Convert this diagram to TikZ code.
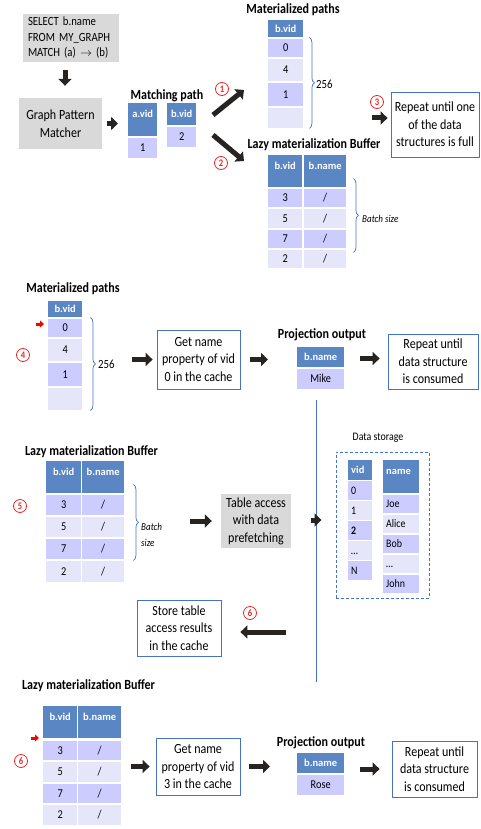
\documentclass[tikz,border=0pt]{standalone}
\usepackage{fontspec}
\setmainfont{Carlito}[FakeStretch=0.86]
\newfontfamily\hdrfont{Carlito}
\usetikzlibrary{arrows.meta, decorations.pathreplacing, calc}

\definecolor{hdrblue}{RGB}{91,134,196}
\definecolor{rowdark}{RGB}{204,204,255}
\definecolor{rowlight}{RGB}{230,230,250}
\definecolor{boxgray}{RGB}{217,217,217}
\definecolor{boxline}{RGB}{68,114,196}
\definecolor{numred}{RGB}{230,40,40}
\definecolor{arrowblk}{RGB}{38,35,33}

\tikzset{
    cell/.style={anchor=north west, inner sep=0pt, text height=7.5pt, text depth=0.5pt},
    hdr/.style={cell, fill=hdrblue, text=white, font=\hdrfont\bfseries\fontsize{10.5}{12}\selectfont},
    tallhdr/.style={hdr, text depth=11pt},
    rowd/.style={cell, fill=rowdark, font=\fontsize{12}{14}\selectfont},
    rowl/.style={cell, fill=rowlight, font=\fontsize{12}{14}\selectfont},
    sz/.style 2 args={minimum width=#1pt, minimum height=#2pt},
    dsc/.style={text width=#1pt, align=left, inner xsep=3pt, font=\fontsize{11.5}{13}\selectfont},
    graybox/.style={fill=boxgray, align=center, inner sep=0pt, font=\fontsize{14}{17.5}\selectfont},
    bluebox/.style={draw=boxline, line width=0.8pt, fill=white, align=center, inner sep=0pt, font=\fontsize{14}{17.5}\selectfont},
    title/.style={inner sep=0pt, font=\bfseries\fontsize{14}{15}\selectfont},
    note/.style={inner sep=0pt, font=\fontsize{12.5}{14}\selectfont},
    noteit/.style={inner sep=0pt, font=\itshape\fontsize{10.5}{16}\selectfont},
    circnum/.style={circle, draw=numred, fill=white, text=numred, line width=0.8pt, minimum size=13pt, inner sep=0pt, font=\bfseries\fontsize{10}{10}\selectfont},
    blk/.style={draw=arrowblk, line width=5pt, -{Triangle[length=7pt, width=13pt]}},
    redarr/.style={draw=red, line width=3pt, -{Triangle[length=4pt, width=7pt]}},
    brc/.style={draw=boxline, line width=0.7pt, decorate, decoration={brace, amplitude=5pt}},
    sepline/.style={draw=boxline, line width=0.8pt},
    dsbox/.style={draw=boxline, line width=1pt, dash pattern=on 3pt off 2pt}
}

\begin{document}
\begin{tikzpicture}[x=1pt, y=-1pt]
    \useasboundingbox (0,0) rectangle (480,829);

    \node[graybox, align=left, text width=86pt, inner xsep=5pt, minimum height=48pt, font=\fontsize{12.5}{15.5}\selectfont] (query) at (71,38) {SELECT b.name\\FROM MY\_GRAPH\\MATCH (a) \(\rightarrow\) (b)};
    \node[graybox, minimum width=83pt, minimum height=51pt] (gpm) at (60.5,123.5) {Graph Pattern\\Matcher};

    \node[title] (match-t) at (167,96) {Matching path};
    \node[tallhdr, sz={29}{33}, text depth=12pt] (mpa-h) at (128,103) {a.vid};
    \node[rowd, sz={29}{20}] (mpa-r1) at (128,138) {1};
    \node[hdr, sz={29}{22}] (mpb-h) at (167,103) {b.vid};
    \node[rowd, sz={29}{20}] (mpb-r1) at (167,127) {2};

    \node[title] (mat1-t) at (293,10) {Materialized paths};
    \node[hdr, sz={35}{17}] (mat1-h) at (268,20) {b.vid};
    \node[rowd, sz={35}{18}] (mat1-r1) at (268,39) {0};
    \node[rowl, sz={35}{22}] (mat1-r2) at (268,59) {4};
    \node[rowd, sz={35}{23}] (mat1-r3) at (268,83) {1};
    \node[rowl, sz={35}{20}] (mat1-r4) at (268,108) {};
    \node[note, anchor=west] (n256a) at (316,84) {256};

    \node[title] (lb1-t) at (314,145) {Lazy materialization Buffer};
    \node[tallhdr, sz={34}{32}] (lb1-h1) at (268,155) {b.vid};
    \node[tallhdr, sz={42}{32}] (lb1-h2) at (304,155) {b.name};
    \node[rowd, sz={34}{18}] (lb1-r1a) at (268,189) {3};
    \node[rowd, sz={42}{18}] (lb1-r1b) at (304,189) {/};
    \node[rowl, sz={34}{19}] (lb1-r2a) at (268,209) {5};
    \node[rowl, sz={42}{19}] (lb1-r2b) at (304,209) {/};
    \node[rowd, sz={34}{18}] (lb1-r3a) at (268,230) {7};
    \node[rowd, sz={42}{18}] (lb1-r3b) at (304,230) {/};
    \node[rowl, sz={34}{18}] (lb1-r4a) at (268,250) {2};
    \node[rowl, sz={42}{18}] (lb1-r4b) at (304,250) {/};
    \node[noteit, anchor=west] (bs1) at (362,219) {Batch size};

    \node[bluebox, minimum width=88pt, minimum height=65pt] (rep1) at (435,124.5) {Repeat until one\\of the data\\structures is full};

    \draw[brc] ([xshift=6pt]mat1-h.south east) -- ([xshift=6pt]mat1-r4.south east);
    \draw[brc] ([xshift=7pt, yshift=9pt]lb1-h2.south east) -- ([xshift=7pt, yshift=16pt]lb1-r4b.south east);

    \draw[blk, shorten <=5pt, shorten >=10pt] (gpm.east) -- (gpm.east -| mpa-h.west);
    \draw[blk, shorten <=8pt, shorten >=12pt] ([xshift=-6pt]query.south) -- ([xshift=4.5pt]gpm.north);
    \coordinate (a1s) at (213,115);
    \coordinate (a1e) at (244,90);
    \coordinate (a2s) at (213,135);
    \coordinate (a2e) at (244,161);
    \draw[blk] (a1s) -- (a1e);
    \draw[blk] (a2s) -- (a2e);
    \draw[blk, shorten >=3pt] ([xshift=-19pt, yshift=6.5pt]rep1.west) -- ([yshift=6.5pt]rep1.west);
    \node[circnum] (c1) at (222,89) {1};
    \node[circnum] (c2) at (221,163) {2};
    \node[circnum] (c3) at (377,102) {3};

    \node[title] (mat2-t) at (73,289) {Materialized paths};
    \node[hdr, sz={34}{16}] (mat2-h) at (48,301) {b.vid};
    \node[rowd, sz={34}{18}] (mat2-r1) at (48,319) {0};
    \node[rowl, sz={34}{22}] (mat2-r2) at (48,339) {4};
    \node[rowd, sz={34}{23}] (mat2-r3) at (48,363) {1};
    \node[rowl, sz={34}{22}] (mat2-r4) at (48,388) {};
    \draw[brc] ([xshift=8pt]mat2-h.south east) -- ([xshift=8pt]mat2-r4.south east);
    \node[note, anchor=west] (n256b) at (98,364) {256};
    \draw[redarr] ([xshift=-12pt, yshift=-5pt]mat2-r1.north west) -- ([xshift=-4pt, yshift=-5pt]mat2-r1.north west);
    \node[circnum] (c4) at (23,355) {4};

    \node[bluebox, minimum width=83pt, minimum height=59pt] (getname1) at (198.5,359.5) {Get name\\property of vid\\0 in the cache};
    \node[title] (po1-t) at (322,335) {Projection output};
    \node[hdr, sz={47}{20}] (po1-h) at (297,347) {b.name};
    \node[rowd, sz={47}{20}] (po1-r1) at (297,369) {Mike};
    \node[bluebox, minimum width=90pt, minimum height=55pt] (rep2) at (433,361.5) {Repeat until\\data structure\\is consumed};
    \draw[blk, shorten <=17pt, shorten >=4pt] (getname1.west -| n256b.east) -- (getname1.west);
    \draw[blk, shorten <=10pt, shorten >=29pt] (getname1.east) -- (getname1.east -| po1-h.west);
    \draw[blk, shorten <=16pt, shorten >=8pt] ([yshift=3pt]rep2.west -| po1-h.east) -- ([yshift=3pt]rep2.west);

    \coordinate (sepT) at (316,400);
    \coordinate (sepB) at (316,682);
    \draw[sepline] (sepT) -- (sepB);

    \node[title] (lb3-t) at (91.5,452) {Lazy materialization Buffer};
    \node[tallhdr, sz={35}{32}] (lb3-h1) at (46,461) {b.vid};
    \node[tallhdr, sz={42}{32}] (lb3-h2) at (82,461) {b.name};
    \node[rowd, sz={35}{20}] (lb3-r1a) at (46,495) {3};
    \node[rowd, sz={42}{20}] (lb3-r1b) at (82,495) {/};
    \node[rowl, sz={35}{20}] (lb3-r2a) at (46,517) {5};
    \node[rowl, sz={42}{20}] (lb3-r2b) at (82,517) {/};
    \node[rowd, sz={35}{20}] (lb3-r3a) at (46,539) {7};
    \node[rowd, sz={42}{20}] (lb3-r3b) at (82,539) {/};
    \node[rowl, sz={35}{21}] (lb3-r4a) at (46,561) {2};
    \node[rowl, sz={42}{21}] (lb3-r4b) at (82,561) {/};
    \draw[brc] ([xshift=9pt, yshift=9pt]lb3-h2.south east) -- ([xshift=9pt, yshift=22pt]lb3-r4b.south east);
    \node[noteit, align=left, anchor=west] (bs3) at (141,535) {Batch\\size};
    \node[circnum] (c5) at (20,506) {5};

    \node[graybox, minimum width=70pt, minimum height=54pt] (tab) at (256,521) {Table access\\with data\\prefetching};
    \draw[blk, shorten <=28pt, shorten >=9pt] (tab.west -| bs3.east) -- (tab.west);

    \node[note, font=\fontsize{11.5}{13}\selectfont] (ds-t) at (378,438) {Data storage};
    \node[dsbox, minimum width=93pt, minimum height=146pt] (ds) at (382.5,525) {};
    \node[hdr, sz={24}{20}, dsc=18, font=\hdrfont\bfseries\fontsize{10.5}{12}\selectfont] (ds-vh) at (348,460) {vid};
    \node[rowd, sz={24}{19}, dsc=18] (ds-v1) at (348,481) {0};
    \node[rowl, sz={24}{19}, dsc=18] (ds-v2) at (348,501) {1};
    \node[rowd, sz={24}{19}, dsc=18] (ds-v3) at (348,521) {\textbf{2}};
    \node[rowl, sz={24}{19}, dsc=18] (ds-v4) at (348,541) {…};
    \node[rowd, sz={24}{19}, dsc=18] (ds-v5) at (348,561) {N};
    \node[tallhdr, sz={36}{33}, dsc=30, font=\hdrfont\bfseries\fontsize{10.5}{12}\selectfont] (ds-nh) at (383,460) {name};
    \node[rowd, sz={36}{18}, dsc=30] (ds-n1) at (383,495) {Joe};
    \node[rowl, sz={36}{18}, dsc=30] (ds-n2) at (383,515) {Alice};
    \node[rowd, sz={36}{18}, dsc=30] (ds-n3) at (383,535) {Bob};
    \node[rowl, sz={36}{18}, dsc=30] (ds-n4) at (383,555) {…};
    \node[rowd, sz={36}{18}, dsc=30] (ds-n5) at (383,575) {John};
    \draw[blk, shorten <=20pt, shorten >=14pt] ([yshift=1pt]tab.east) -- ([yshift=1pt]tab.east -| ds.west);

    \node[bluebox, minimum width=84pt, minimum height=56pt] (store) at (179,628) {Store table\\access results\\in the cache};
    \draw[blk, shorten <=30pt, shorten >=19pt] ([yshift=-4pt]store.east -| sepB) -- ([yshift=-4pt]store.east);
    \node[circnum] (c6a) at (250,613) {6};

    \node[title] (lb4-t) at (88.5,686) {Lazy materialization Buffer};
    \node[tallhdr, sz={34}{32}] (lb4-h1) at (43,706) {b.vid};
    \node[tallhdr, sz={43}{32}] (lb4-h2) at (78,706) {b.name};
    \node[rowd, sz={34}{19}] (lb4-r1a) at (43,741) {3};
    \node[rowd, sz={43}{19}] (lb4-r1b) at (78,741) {/};
    \node[rowl, sz={34}{20}] (lb4-r2a) at (43,762) {5};
    \node[rowl, sz={43}{20}] (lb4-r2b) at (78,762) {/};
    \node[rowd, sz={34}{19}] (lb4-r3a) at (43,784) {7};
    \node[rowd, sz={43}{19}] (lb4-r3b) at (78,784) {/};
    \node[rowl, sz={34}{20}] (lb4-r4a) at (43,805) {2};
    \node[rowl, sz={43}{20}] (lb4-r4b) at (78,805) {/};
    \draw[redarr] ([xshift=-12pt, yshift=3pt]lb4-r1a.north west) -- ([xshift=-4pt, yshift=3pt]lb4-r1a.north west);
    \node[circnum] (c6b) at (21,761) {6};

    \node[bluebox, minimum width=84pt, minimum height=57pt] (getname2) at (198,766.5) {Get name\\property of vid\\3 in the cache};
    \node[title] (po2-t) at (321,743) {Projection output};
    \node[hdr, sz={47}{20}] (po2-h) at (297,753) {b.name};
    \node[rowd, sz={47}{20}] (po2-r1) at (297,775) {Rose};
    \node[bluebox, minimum width=85pt, minimum height=56pt] (rep3) at (434.5,769) {Repeat until\\data structure\\is consumed};
    \draw[blk, shorten <=10pt, shorten >=6pt] (getname2.west -| lb4-r2b.east) -- (getname2.west);
    \draw[blk, shorten <=9pt, shorten >=27pt] (getname2.east) -- (getname2.east -| po2-h.west);
    \draw[blk, shorten <=16pt, shorten >=12pt] (rep3.west -| po2-h.east) -- (rep3.west);

\end{tikzpicture}
\end{document}
